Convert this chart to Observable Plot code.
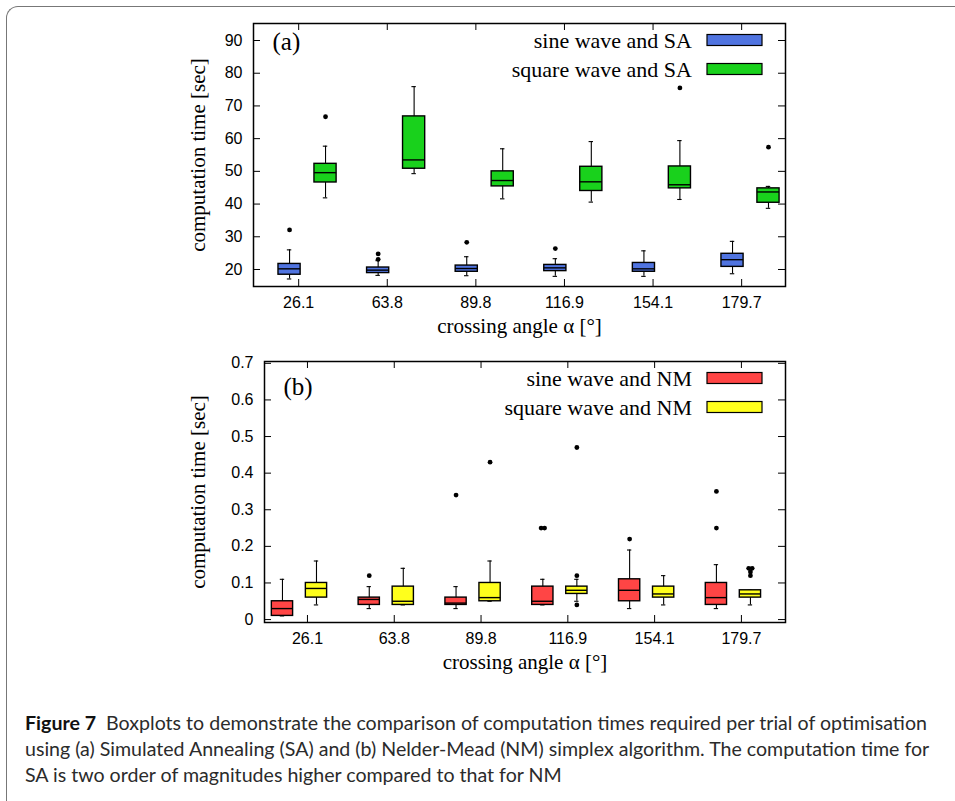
<!DOCTYPE html>
<html><head><meta charset="utf-8">
<script src="https://cdn.jsdelivr.net/npm/d3@7"></script>
<script src="https://cdn.jsdelivr.net/npm/@observablehq/plot@0.6"></script>
<style>
html,body{margin:0;padding:0;background:#fff;}
body{width:955px;height:801px;overflow:hidden;position:relative;}
#border{position:absolute;left:6px;top:6px;width:2000px;height:2000px;border-left:1.6px solid #777;border-top:1.6px solid #777;border-top-left-radius:12px;}
#pa{position:absolute;left:0;top:0;}
#pb{position:absolute;left:0;top:345px;}
#cap{position:absolute;left:25px;top:710px;width:925px;font-family:Lato,'Open Sans',sans-serif;font-size:19.6px;line-height:26px;color:#2b2b2b;white-space:nowrap;}
#cap b{color:#111;}
</style></head>
<body>
<div id="border"></div>
<div id="pa"></div>
<div id="pb"></div>
<div id="cap"><b>Figure 7</b>&nbsp; Boxplots to demonstrate the comparison of computation times required per trial of optimisation<br>using (a) Simulated Annealing (SA) and (b) Nelder-Mead (NM) simplex algorithm. The computation time for<br>SA is two order of magnitudes higher compared to that for NM</div>
<script>
// ---------- data ----------
const angles = ["26.1", "63.8", "89.8", "116.9", "154.1", "179.7"];
// boxplot stats per angle: [lower whisker, Q1, median, Q3, upper whisker]
const sineSA = [
  [17.1, 18.4, 20.2, 21.7, 26.0],
  [18.2, 18.9, 19.8, 20.6, 22.7],
  [18.1, 19.3, 20.3, 21.2, 23.9],
  [17.9, 19.5, 20.5, 21.4, 23.3],
  [17.9, 19.3, 20.2, 22.0, 25.7],
  [18.7, 20.8, 23.0, 24.8, 28.6]
];
const sineSAOutliers = [[32.1], [23.1, 24.8], [28.3], [26.4], [], []];
const squareSA = [
  [41.9, 46.6, 49.6, 52.3, 57.7],
  [49.3, 50.8, 53.5, 66.8, 75.9],
  [41.6, 45.4, 47.2, 50.0, 56.9],
  [40.6, 44.0, 46.8, 51.4, 59.1],
  [41.4, 44.8, 45.9, 51.5, 59.4],
  [38.7, 40.4, 43.7, 44.8, 45.4]
];
const squareSAOutliers = [[66.7], [], [], [], [75.5], [57.4]];
const sineNM = [
  [0.01, 0.01, 0.03, 0.05, 0.11],
  [0.03, 0.04, 0.055, 0.06, 0.09],
  [0.03, 0.04, 0.045, 0.06, 0.09],
  [0.04, 0.04, 0.05, 0.09, 0.11],
  [0.03, 0.05, 0.08, 0.11, 0.19],
  [0.03, 0.04, 0.06, 0.10, 0.15]
];
const sineNMOutliers = [[], [0.12], [0.34], [0.25, 0.25], [0.22], [0.25, 0.35]];
const squareNM = [
  [0.04, 0.06, 0.085, 0.10, 0.16],
  [0.04, 0.04, 0.05, 0.09, 0.14],
  [0.05, 0.05, 0.06, 0.10, 0.16],
  [0.05, 0.07, 0.08, 0.09, 0.11],
  [0.04, 0.06, 0.07, 0.09, 0.12],
  [0.04, 0.06, 0.07, 0.08, 0.08]
];
const squareNMOutliers = [[], [], [0.43], [0.04, 0.12, 0.47], [], [0.12, 0.13, 0.14, 0.14]];
const yTicksA = [20, 30, 40, 50, 60, 70, 80, 90];
const yTicksB = [0, 0.1, 0.2, 0.3, 0.4, 0.5, 0.6, 0.7];
const legendA = ["sine wave and SA", "square wave and SA"];
const legendB = ["sine wave and NM", "square wave and NM"];
const colorsA = ["#5074e0", "#19d11c"];
const colorsB = ["#ff4545", "#ffff1c"];

const SERIF = "'Liberation Serif','Times New Roman',serif";
const SANS = "'Liberation Sans',Arial,sans-serif";

function panel(cfg) {
  const {series, outliers, colors, names, yDomain, yTicks, xDomain, offset, tickOffset, boxW,
         W, H, mL, mR, mT, mB, tag, tagDy, yTitleDx} = cfg;
  const fw = W - mL - mR, fh = H - mT - mB;
  const rows = [], outs = [];
  series.forEach((s, si) => s.forEach((st, i) => {
    rows.push({x: i + (si === 0 ? -offset : offset), lo: st[0], q1: st[1], med: st[2], q3: st[3], hi: st[4], color: colors[si]});
  }));
  outliers.forEach((o, si) => o.forEach((vals, i) => {
    const seen = {};
    vals.forEach(v => {
      const k = String(v);
      seen[k] = (seen[k] || 0) + 1;
      const dup = vals.filter(u => u === v).length > 1;
      const shift = dup ? (seen[k] === 1 ? -0.02 : 0.02) : 0;
      outs.push({x: i + (si === 0 ? -offset : offset) + shift, v});
    });
  }));
  const cap = 0.025;
  const xt = angles.map((d, i) => i + tickOffset);
  const legend = () => {
    const g = d3.create("svg:g");
    const fr = W - mR;
    names.forEach((n, i) => {
      const cy = mT + 17 + i * 29;
      g.append("text").attr("x", fr - 93).attr("y", cy).attr("text-anchor", "end")
        .attr("dy", "0.35em").attr("font-family", SERIF).attr("font-size", 22).attr("fill", "#000").text(n);
      g.append("rect").attr("x", fr - 78).attr("y", cy - 5.5).attr("width", 55).attr("height", 11)
        .attr("fill", colors[i]).attr("stroke", "#000").attr("stroke-width", 1.2);
    });
    return g.node();
  };
  return Plot.plot({
    width: W, height: H, marginLeft: mL, marginRight: mR, marginTop: mT, marginBottom: mB,
    x: {domain: xDomain, axis: null},
    y: {domain: yDomain, axis: null},
    style: {fontFamily: SANS, fontSize: "16px", color: "#000", background: "transparent", overflow: "visible"},
    marks: [
      Plot.ruleX(rows, {x: "x", y1: "lo", y2: "hi", stroke: "#000", strokeWidth: 1.1}),
      Plot.ruleY(rows, {y: "lo", x1: d => d.x - cap, x2: d => d.x + cap, stroke: "#000", strokeWidth: 1.1}),
      Plot.ruleY(rows, {y: "hi", x1: d => d.x - cap, x2: d => d.x + cap, stroke: "#000", strokeWidth: 1.1}),
      Plot.rect(rows, {x1: d => d.x - boxW / 2, x2: d => d.x + boxW / 2, y1: "q1", y2: "q3", fill: "color", stroke: "#000", strokeWidth: 1.4}),
      Plot.ruleY(rows, {y: "med", x1: d => d.x - boxW / 2, x2: d => d.x + boxW / 2, stroke: "#000", strokeWidth: 1.4}),
      Plot.dot(outs, {x: "x", y: "v", r: 2.4, fill: "#000", stroke: null}),
      Plot.tickY(yTicks, {y: d => d, insetRight: fw - 7, stroke: "#000"}),
      Plot.tickY(yTicks, {y: d => d, insetLeft: fw - 7, stroke: "#000"}),
      Plot.tickX(xt, {x: d => d, insetBottom: fh - 7, stroke: "#000"}),
      Plot.tickX(xt, {x: d => d, insetTop: fh - 7, stroke: "#000"}),
      Plot.frame({stroke: "#000", strokeWidth: 1.5}),
      Plot.axisY({ticks: yTicks, tickSize: 0, tickPadding: 11, label: null, tickFormat: d => String(d), fontSize: 16}),
      Plot.text(angles, {x: (d, i) => i + tickOffset, frameAnchor: "bottom", dy: 21, fontSize: 16, fill: "#000"}),
      Plot.text(["crossing angle α [°]"], {frameAnchor: "bottom", dy: 46, fontFamily: SERIF, fontSize: 21, fill: "#000"}),
      Plot.text(["computation time [sec]"], {frameAnchor: "left", dx: yTitleDx, rotate: -90, textAnchor: "middle", lineAnchor: "middle", fontFamily: SERIF, fontSize: 21, fill: "#000"}),
      Plot.text([tag], {frameAnchor: "top-left", dx: 19, dy: tagDy, lineAnchor: "middle", textAnchor: "start", fontFamily: SERIF, fontSize: 25, fill: "#000"}),
      legend
    ]
  });
}

document.getElementById("pa").appendChild(panel({
  series: [sineSA, squareSA], outliers: [sineSAOutliers, squareSAOutliers], colors: colorsA, names: legendA,
  yDomain: [14.8, 95.2], yTicks: yTicksA, xDomain: [-0.61, 5.395], offset: 0.203, tickOffset: -0.10, boxW: 0.25,
  W: 955, H: 345, mL: 253, mR: 170, mT: 23, mB: 59, tag: "(a)", tagDy: 18, yTitleDx: -55
}));
document.getElementById("pb").appendChild(panel({
  series: [sineNM, squareNM], outliers: [sineNMOutliers, squareNMOutliers], colors: colorsB, names: legendB,
  yDomain: [-0.008, 0.705], yTicks: yTicksB, xDomain: [-0.403, 5.60], offset: 0.196, tickOffset: 0.092, boxW: 0.245,
  W: 955, H: 345, mL: 264, mR: 170, mT: 16, mB: 68, tag: "(b)", tagDy: 25, yTitleDx: -66
}));
</script>
</body></html>
